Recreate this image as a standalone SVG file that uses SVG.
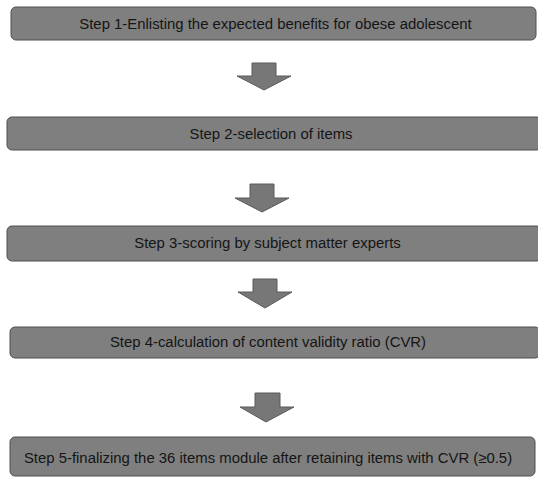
<svg xmlns="http://www.w3.org/2000/svg" width="538" height="477" viewBox="0 0 538 477">
<style>
.box{fill:#7f7f7f;stroke:#4f4f4f;stroke-width:1}
.lbl{font-family:"Liberation Sans",Arial,sans-serif;font-size:14.9px;fill:#151515;text-anchor:middle;dominant-baseline:central}
.arr{fill:#777;stroke:#5a5a5a;stroke-width:1;stroke-linejoin:miter}
</style>
<rect width="538" height="477" fill="#fff"/>
<g id="step1"><rect class="box" x="11" y="7" width="525" height="33" rx="5"/><text class="lbl" x="275.5" y="23.5">Step 1-Enlisting the expected benefits for obese adolescent</text></g>
<g id="step2"><rect class="box" x="7" y="117" width="535" height="33" rx="5"/><text class="lbl" x="271" y="133.5">Step 2-selection of items</text></g>
<g id="step3"><rect class="box" x="7" y="226" width="535" height="35" rx="5"/><text class="lbl" x="267.5" y="243">Step 3-scoring by subject matter experts</text></g>
<g id="step4"><rect class="box" x="10" y="327" width="530" height="31" rx="5"/><text class="lbl" x="268" y="342">Step 4-calculation of content validity ratio (CVR)</text></g>
<g id="step5"><rect class="box" x="10" y="437" width="525" height="39" rx="5"/><text class="lbl" x="268" y="458">Step 5-finalizing the 36 items module after retaining items with CVR (≥0.5)</text></g>
<g id="connectors">
<polygon class="arr" points="252,63 276,63 276,76 291,76 264,90 237,76 252,76"/>
<polygon class="arr" points="250,184 274,184 274,198 289,198 262,212 235,198 250,198"/>
<polygon class="arr" points="253,279 277,279 277,292 292,292 265,308 238,292 253,292"/>
<polygon class="arr" points="255,393 280,393 280,407 294,407 266,422 240,407 255,407"/>
</g>
</svg>
